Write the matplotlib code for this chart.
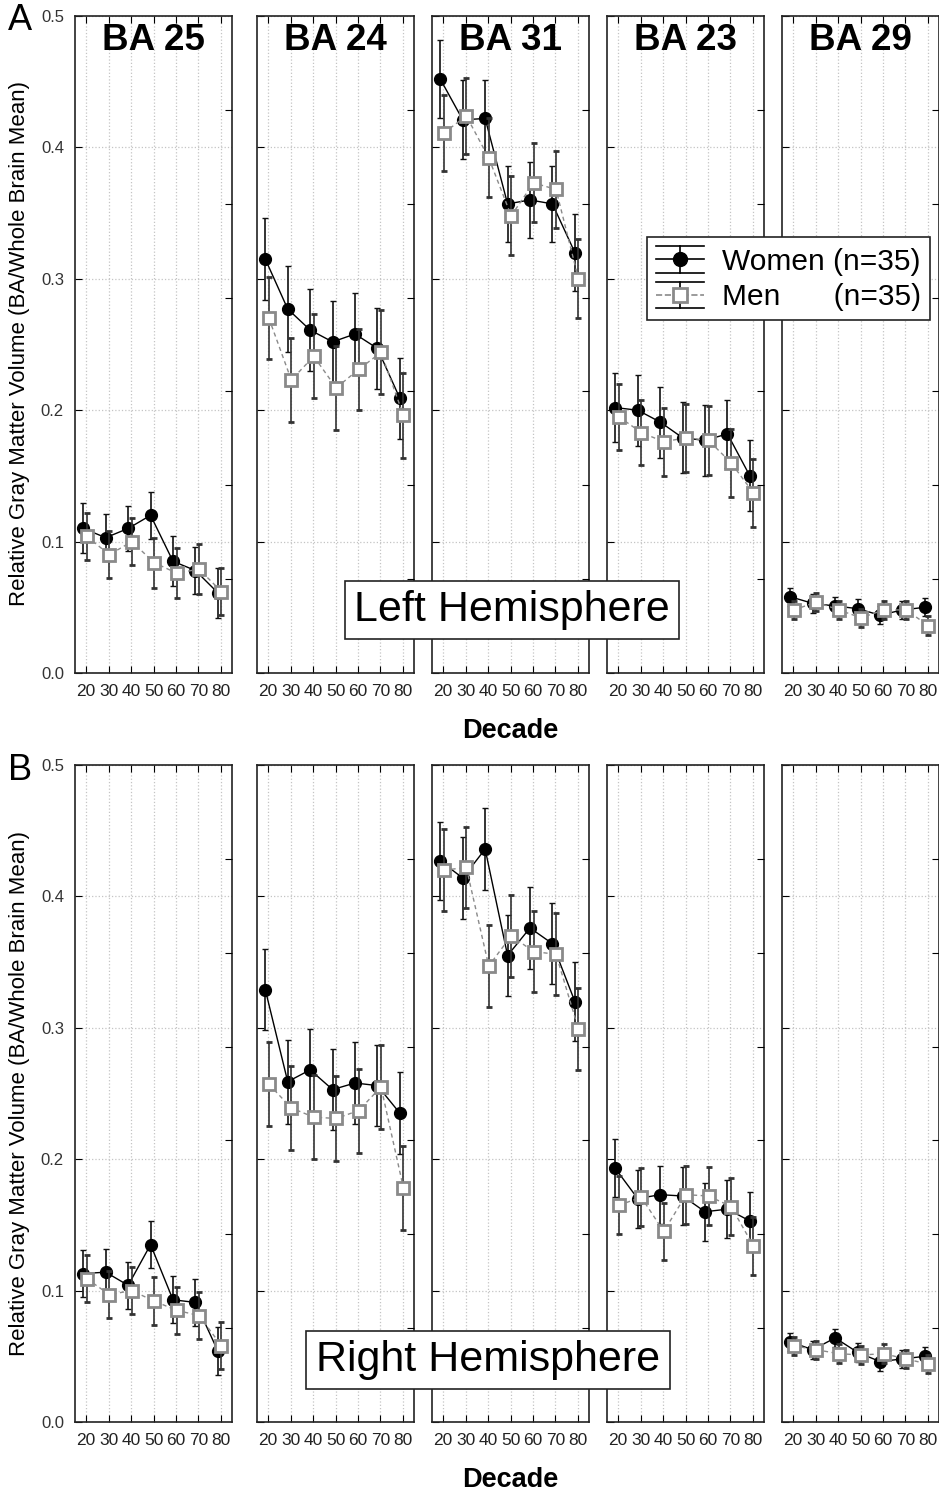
import numpy as np
import matplotlib
matplotlib.use('Agg')
import matplotlib.pyplot as plt
from matplotlib.lines import Line2D
from matplotlib.legend_handler import HandlerBase

plt.rcParams['font.family'] = ['Liberation Sans', 'DejaVu Sans']

# decades on the x axis
decades = [20, 30, 40, 50, 60, 70, 80]
regions = ['BA 25', 'BA 24', 'BA 31', 'BA 23', 'BA 29']

# Left hemisphere (panel A), one row per region
left_women = [
    [0.110, 0.103, 0.110, 0.120, 0.085, 0.078, 0.061],
    [0.315, 0.277, 0.261, 0.252, 0.258, 0.247, 0.209],
    [0.452, 0.421, 0.422, 0.357, 0.360, 0.357, 0.320],
    [0.202, 0.200, 0.191, 0.179, 0.177, 0.182, 0.150],
    [0.058, 0.053, 0.051, 0.049, 0.044, 0.048, 0.050],
]
left_women_err = [
    [0.019, 0.018, 0.017, 0.018, 0.019, 0.018, 0.019],
    [0.031, 0.033, 0.031, 0.031, 0.031, 0.031, 0.031],
    [0.030, 0.030, 0.029, 0.029, 0.029, 0.029, 0.029],
    [0.026, 0.027, 0.027, 0.027, 0.027, 0.026, 0.027],
    [0.007, 0.007, 0.007, 0.007, 0.007, 0.007, 0.007],
]
left_men = [
    [0.104, 0.090, 0.100, 0.084, 0.076, 0.079, 0.062],
    [0.270, 0.223, 0.241, 0.217, 0.231, 0.244, 0.196],
    [0.411, 0.424, 0.392, 0.348, 0.373, 0.368, 0.300],
    [0.195, 0.183, 0.176, 0.179, 0.177, 0.160, 0.137],
    [0.048, 0.054, 0.048, 0.042, 0.048, 0.048, 0.036],
]
left_men_err = [
    [0.018, 0.018, 0.018, 0.019, 0.019, 0.019, 0.018],
    [0.031, 0.032, 0.032, 0.032, 0.031, 0.032, 0.032],
    [0.029, 0.029, 0.030, 0.030, 0.030, 0.029, 0.030],
    [0.025, 0.025, 0.026, 0.026, 0.026, 0.026, 0.026],
    [0.007, 0.007, 0.007, 0.007, 0.007, 0.007, 0.007],
]

# Right hemisphere (panel B)
right_women = [
    [0.113, 0.114, 0.104, 0.135, 0.093, 0.091, 0.054],
    [0.329, 0.259, 0.268, 0.253, 0.258, 0.256, 0.235],
    [0.427, 0.414, 0.436, 0.355, 0.376, 0.364, 0.320],
    [0.193, 0.170, 0.173, 0.172, 0.160, 0.162, 0.153],
    [0.061, 0.055, 0.064, 0.053, 0.046, 0.048, 0.050],
]
right_women_err = [
    [0.018, 0.018, 0.018, 0.018, 0.018, 0.018, 0.018],
    [0.031, 0.032, 0.031, 0.031, 0.031, 0.031, 0.031],
    [0.030, 0.031, 0.031, 0.031, 0.031, 0.031, 0.030],
    [0.022, 0.022, 0.022, 0.022, 0.022, 0.022, 0.022],
    [0.007, 0.007, 0.007, 0.007, 0.007, 0.007, 0.007],
]
right_men = [
    [0.109, 0.097, 0.100, 0.092, 0.085, 0.081, 0.058],
    [0.257, 0.239, 0.232, 0.231, 0.237, 0.255, 0.178],
    [0.420, 0.422, 0.347, 0.370, 0.358, 0.356, 0.299],
    [0.165, 0.171, 0.145, 0.173, 0.172, 0.164, 0.134],
    [0.058, 0.055, 0.052, 0.051, 0.052, 0.048, 0.044],
]
right_men_err = [
    [0.018, 0.018, 0.018, 0.018, 0.018, 0.018, 0.018],
    [0.032, 0.032, 0.032, 0.032, 0.032, 0.032, 0.032],
    [0.031, 0.031, 0.031, 0.031, 0.031, 0.031, 0.031],
    [0.022, 0.022, 0.022, 0.022, 0.022, 0.022, 0.022],
    [0.007, 0.007, 0.007, 0.007, 0.007, 0.007, 0.007],
]

W, H = 939, 1497
fig = plt.figure(figsize=(W / 100, H / 100), dpi=100)

panel_left = [75, 257, 432, 607, 782]
panel_w = 157
row_top = [16, 765]
row_h = 657

x = np.array(decades)
GRAY = '#8a8a8a'


def draw_row(row, women, women_err, men, men_err):
    axes = []
    for i in range(5):
        rect = [panel_left[i] / W, 1 - (row_top[row] + row_h) / H,
                panel_w / W, row_h / H]
        ax = fig.add_axes(rect)
        ax.errorbar(x - 1.3, women[i], yerr=women_err[i], color='black',
                    lw=1.0, marker='o', ms=8.5, ecolor='#111', elinewidth=1.2,
                    capsize=2, capthick=1, zorder=3)
        ax.errorbar(x + 0.3, men[i], yerr=men_err[i], color=GRAY,
                    lw=1.0, ls=(0, (3, 2.5)), marker='s', ms=9, mfc='white',
                    mec=GRAY, mew=2, ecolor='#333', elinewidth=1.2,
                    capsize=2, capthick=1, zorder=4)
        ax.set_xlim(15, 85)
        ax.set_ylim(0, 0.5)
        ax.set_xticks(decades)
        ax.set_xticklabels([str(d) for d in decades], fontsize=12.5, color='#222')
        ax.set_yticks([0, 0.1, 0.2, 0.3, 0.4, 0.5])
        ax.grid(True, color='#c4c4c4', ls=':', lw=0.9)
        ax.tick_params(axis='x', direction='in', top=True, length=5, pad=8)
        ax.tick_params(axis='y', direction='in', left=True, right=False, length=5)
        if i == 0:
            ax.set_yticklabels(['0.0', '0.1', '0.2', '0.3', '0.4', '0.5'],
                               fontsize=12, color='#333')
            ax.tick_params(axis='y', pad=8)
        else:
            ax.set_yticklabels([])
        for s in ax.spines.values():
            s.set_linewidth(1.2)
            s.set_color('#222')
        # right-side ticks of the original software (7 divisions)
        ax2 = ax.twinx()
        ax2.set_ylim(0, 0.5)
        ax2.set_yticks([k * 0.5 / 7 for k in range(1, 7)])
        ax2.set_yticklabels([])
        ax2.tick_params(axis='y', direction='in', length=5)
        for s in ax2.spines.values():
            s.set_visible(False)
        if row == 0:
            ax.text(0.5, 0.99, regions[i], transform=ax.transAxes,
                    ha='center', va='top', fontsize=26.5, fontweight='bold')
        axes.append(ax)
    return axes


draw_row(0, left_women, left_women_err, left_men, left_men_err)
draw_row(1, right_women, right_women_err, right_men, right_men_err)

# letters, axis titles
fig.text(8 / W, 1 - 21 / H, 'A', fontsize=26, va='center', ha='left')
fig.text(8 / W, 1 - 771 / H, 'B', fontsize=26, va='center', ha='left')
ylab = 'Relative Gray Matter Volume (BA/Whole Brain Mean)'
fig.text(20 / W, 1 - 343 / H, ylab, rotation=90, fontsize=16,
         va='center', ha='center')
fig.text(20 / W, 1 - 1093 / H, ylab, rotation=90, fontsize=16,
         va='center', ha='center')
fig.text(510 / W, 1 - 731 / H, 'Decade', fontsize=19.5, fontweight='bold',
         ha='center', va='center')
fig.text(510 / W, 1 - 1480 / H, 'Decade', fontsize=19.5, fontweight='bold',
         ha='center', va='center')

box = dict(boxstyle='square,pad=0.22', fc='white', ec='#222', lw=1.2)
fig.text(512 / W, 1 - 610 / H, 'Left Hemisphere', fontsize=31,
         ha='center', va='center', bbox=box, zorder=10)
fig.text(488 / W, 1 - 1360 / H, 'Right Hemisphere', fontsize=31,
         ha='center', va='center', bbox=box, zorder=10)


# legend handle: error bar with caps spanning the full handle width
class StatHandler(HandlerBase):
    def create_artists(self, legend, orig_handle, xdescent, ydescent,
                       width, height, fontsize, trans):
        x0, x1 = -xdescent, -xdescent + width
        y0, y1 = -ydescent, -ydescent + height
        xm, ym = (x0 + x1) / 2, (y0 + y1) / 2
        arts = [
            Line2D([x0, x1], [y1, y1], color='black', lw=1.2),
            Line2D([x0, x1], [y0, y0], color='black', lw=1.2),
            Line2D([xm, xm], [y0, y1], color='black', lw=1.2),
            Line2D([x0, x1], [ym, ym], color=orig_handle.get_color(),
                   lw=1.2, ls=orig_handle.get_linestyle()),
            Line2D([xm], [ym], marker=orig_handle.get_marker(),
                   ms=orig_handle.get_markersize(),
                   mfc=orig_handle.get_markerfacecolor(),
                   mec=orig_handle.get_markeredgecolor(),
                   mew=orig_handle.get_markeredgewidth(), ls='none'),
        ]
        for a in arts:
            a.set_transform(trans)
        return arts


h_w = Line2D([], [], color='black', marker='o', ms=10, mfc='black', mec='black')
h_m = Line2D([], [], color=GRAY, ls='--', marker='s', ms=10, mfc='white',
             mec=GRAY, mew=2)
leg = fig.legend([h_w, h_m], ['Women (n=35)', 'Men\u2002\u2002\u2002 (n=35)'],
                 handler_map={Line2D: StatHandler()},
                 loc='upper left', bbox_to_anchor=(647 / W, 1 - 237 / H),
                 fontsize=21.5, frameon=True, fancybox=False, framealpha=1,
                 edgecolor='#222', handlelength=1.6, handleheight=1.0,
                 labelspacing=0.2, borderpad=0.3, handletextpad=0.6,
                 borderaxespad=0)
leg.get_frame().set_linewidth(1.2)
leg.set_zorder(20)

fig.savefig('out.png', dpi=100, facecolor='white')
